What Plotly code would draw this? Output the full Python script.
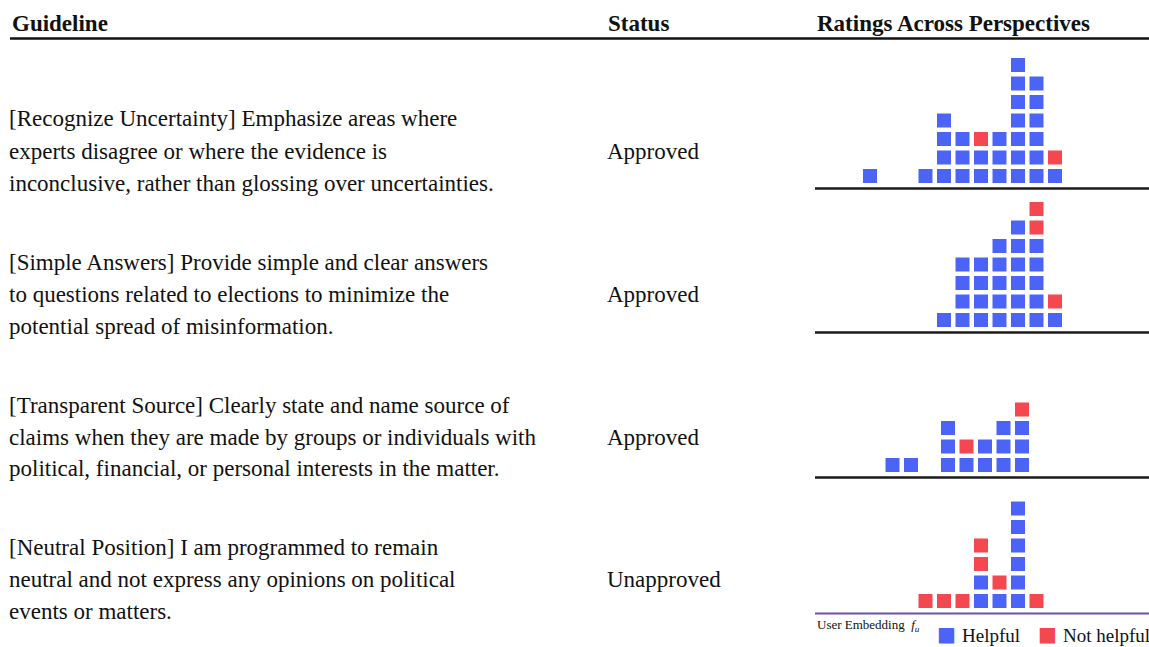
import plotly.graph_objects as go

W, H = 1149, 647

# ---------------- data ----------------
headers = ["Guideline", "Status", "Ratings Across Perspectives"]
guidelines = [
    ["[Recognize Uncertainty] Emphasize areas where",
     "experts disagree or where the evidence is",
     "inconclusive, rather than glossing over uncertainties."],
    ["[Simple Answers] Provide simple and clear answers",
     "to questions related to elections to minimize the",
     "potential spread of misinformation."],
    ["[Transparent Source] Clearly state and name source of",
     "claims when they are made by groups or individuals with",
     "political, financial, or personal interests in the matter."],
    ["[Neutral Position] I am programmed to remain",
     "neutral and not express any opinions on political",
     "events or matters."],
]
statuses = ["Approved", "Approved", "Approved", "Unapproved"]

# per panel: embedding-bin columns and stacked ratings (bottom-up); H = helpful, N = not helpful
panel_cols = [
    [0, 3, 4, 5, 6, 7, 8, 9, 10],
    [4, 5, 6, 7, 8, 9, 10],
    [1, 2, 4, 5, 6, 7, 8],
    [3, 4, 5, 6, 7, 8, 9],
]
panel_stacks = [
    ["H", "H", "HHHH", "HHH", "HHN", "HHH", "HHHHHHH", "HHHHHH", "HN"],
    ["H", "HHHH", "HHHH", "HHHHH", "HHHHHH", "HHHHHNN", "HN"],
    ["H", "H", "HHH", "HN", "HH", "HHH", "HHHN"],
    ["N", "N", "N", "HHNN", "HN", "HHHHHH", "N"],
]
labels = {"H": "Helpful", "N": "Not helpful"}
colors = {"H": "#4b63f6", "N": "#f4474f"}

# ---------------- layout helpers ----------------
def px(x):
    return x / W

def py(y):
    return 1 - y / H

FONT = "Liberation Serif"
FS = 23
fig = go.Figure()

row_y = [[119, 151, 183], [262, 294, 326], [405, 437, 469], [547, 579, 611]]
baselines = [188, 332, 477, 613]
x_offsets = [0, 0, 4, 0]
step = 18.5
col0 = 870
panel_h = 140

shapes = [dict(type="line", xref="paper", yref="paper", x0=px(10), x1=1, y0=py(38.5), y1=py(38.5),
               line=dict(color="#111", width=2.5))]

for i in range(4):
    ax = "" if i == 0 else str(i + 1)
    for key in ["H", "N"]:
        xs, ys = [], []
        for c, s in zip(panel_cols[i], panel_stacks[i]):
            for r, ch in enumerate(s):
                if ch == key:
                    xs.append(c)
                    ys.append(r)
        fig.add_trace(go.Scatter(
            x=xs, y=ys, mode="markers",
            marker=dict(symbol="square", size=14, color=colors[key], line=dict(width=0)),
            name=labels[key], showlegend=False,
            xaxis="x" + ax, yaxis="y" + ax, hoverinfo="skip"))
    b = baselines[i]
    c0 = col0 + x_offsets[i]
    lc = "#6b4fb3" if i == 3 else "#1a1a1a"
    lw = 2 if i == 3 else 2.5
    shapes.append(dict(type="line", xref="paper", yref="paper", x0=px(815), x1=1,
                       y0=py(b + 0.5), y1=py(b + 0.5), line=dict(color=lc, width=lw)))
    fig.update_layout(**{
        "xaxis" + ax: dict(domain=[px(815), 1], range=[(815 - c0) / step, (W - c0) / step],
                           showgrid=False, zeroline=False, showticklabels=False, ticks="",
                           showline=False, anchor="y" + ax, fixedrange=True),
        "yaxis" + ax: dict(domain=[py(b), py(b - panel_h)],
                           range=[-12 / step, (panel_h - 12) / step],
                           showgrid=False, zeroline=False, showticklabels=False, ticks="",
                           showline=False, anchor="x" + ax, fixedrange=True),
    })

annotations = []
# headers
for text, x in zip(headers, [10, 606, 815]):
    annotations.append(dict(text="<b>" + text + "</b>", x=px(x), y=py(24), xref="paper", yref="paper",
                            xanchor="left", yanchor="middle", showarrow=False,
                            font=dict(family=FONT, size=FS, color="#111")))
# guideline lines and statuses
for i in range(4):
    for line, yy in zip(guidelines[i], row_y[i]):
        annotations.append(dict(text=line, x=px(7), y=py(yy), xref="paper", yref="paper",
                                xanchor="left", yanchor="middle", showarrow=False,
                                font=dict(family=FONT, size=FS, color="#111")))
    annotations.append(dict(text=statuses[i], x=px(605), y=py(row_y[i][1]), xref="paper", yref="paper",
                            xanchor="left", yanchor="middle", showarrow=False,
                            font=dict(family=FONT, size=FS, color="#111")))
annotations.append(dict(text="User Embedding  <i>f<sub>u</sub></i>", x=px(815), y=py(625),
                        xref="paper", yref="paper", xanchor="left", yanchor="middle", showarrow=False,
                        font=dict(family=FONT, size=13, color="#111")))

# legend (kept inside the page): colour keys as square glyphs + labels
legend_keys = ["H", "N"]
legend_key_x = [946.5, 1047.5]
legend_text_x = [961, 1062]
for k, kx, tx in zip(legend_keys, legend_key_x, legend_text_x):
    annotations.append(dict(text="■", x=px(kx), y=0, xref="paper", yref="paper",
                            xanchor="center", yanchor="bottom", showarrow=False, borderpad=0,
                            font=dict(family="DejaVu Sans", size=20, color=colors[k])))
    annotations.append(dict(text=labels[k], x=px(tx), y=0, xref="paper", yref="paper",
                            xanchor="left", yanchor="bottom", showarrow=False, borderpad=0,
                            font=dict(family=FONT, size=19, color="#111")))

fig.update_layout(
    width=W, height=H, margin=dict(l=0, r=0, t=0, b=0),
    paper_bgcolor="white", plot_bgcolor="white",
    annotations=annotations, shapes=shapes,
    showlegend=False,
)

fig.write_html(
    "out.html",
    config={"displayModeBar": False, "staticPlot": True},
    post_script="document.body.style.margin='0';document.body.style.overflow='hidden';",
)
